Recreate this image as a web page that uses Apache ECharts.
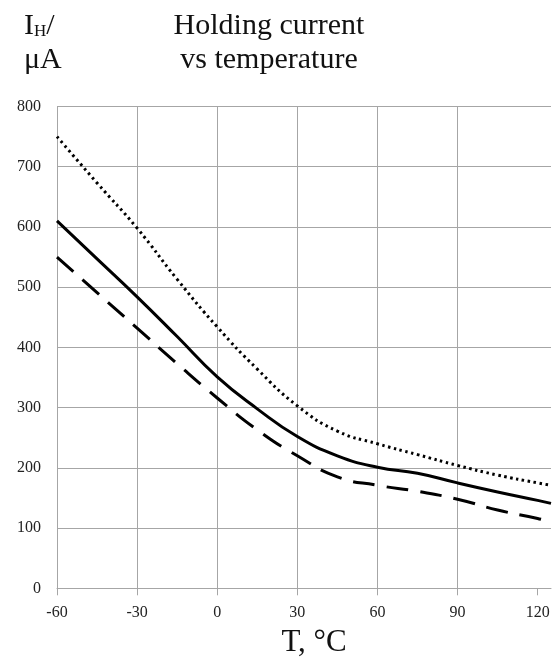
<!DOCTYPE html>
<html>
<head>
<meta charset="utf-8">
<script src="https://cdn.jsdelivr.net/npm/echarts@6/dist/echarts.min.js"></script>
<style>html,body{margin:0;padding:0;background:#fff;}#c{width:559px;height:672px;}</style>
</head>
<body>
<div id="c"></div>
<script>
var temps = [-60, -45, -30, -15, 0, 15, 30, 45, 60, 75, 90, 105, 120, 125];
var typical = [610, 547, 484, 418, 351, 298, 252, 220, 201, 191, 175, 160, 146, 141];
var maxCurve = [750, 673, 598, 513, 434, 364, 303, 261, 240, 222, 204, 188, 175, 171];
var minCurve = [550, 491, 432, 373, 316, 263, 220, 185, 171, 161, 148, 130, 116, 110];
var xTicks = [-60, -30, 0, 30, 60, 90, 120];
var titleLines = ['Holding current', 'vs temperature'];
var xName = 'T, \u00B0C';

function pairs(v) { return temps.map(function (t, i) { return [t, v[i]]; }); }

var font = '"Liberation Serif", "Times New Roman", serif';
var grey = '#a6a6a6';
var chart = echarts.init(document.getElementById('c'), null, { renderer: 'canvas' });
chart.setOption({
  animation: false,
  backgroundColor: '#ffffff',
  grid: { left: 57, right: 8, top: 106.5, bottom: 83.7, containLabel: false },
  xAxis: {
    type: 'value', min: -60, max: 125, interval: 30,
    axisLine: { show: true, lineStyle: { color: grey, width: 1 } },
    axisTick: { show: true, length: 7, inside: false, customValues: xTicks, lineStyle: { color: grey } },
    axisLabel: { customValues: xTicks, margin: 16, color: '#222', fontFamily: font, fontSize: 16 },
    splitLine: { show: true, showMaxLine: false, lineStyle: { color: grey, width: 1 } }
  },
  yAxis: {
    type: 'value', min: 0, max: 800, interval: 100,
    axisLine: { show: true, lineStyle: { color: grey, width: 1 } },
    axisTick: { show: true, length: 7, inside: false, lineStyle: { color: grey } },
    axisLabel: { margin: 16, color: '#222', fontFamily: font, fontSize: 16 },
    splitLine: { show: true, lineStyle: { color: grey, width: 1 } }
  },
  series: [
    { type: 'line', data: pairs(maxCurve), smooth: 0.5, showSymbol: false, lineStyle: { color: '#000', width: 3, type: [2.5, 3.5] } },
    { type: 'line', data: pairs(typical), smooth: 0.5, showSymbol: false, lineStyle: { color: '#000', width: 3, type: 'solid' } },
    { type: 'line', data: pairs(minCurve), smooth: 0.5, showSymbol: false, lineStyle: { color: '#000', width: 3, type: [22, 12] } }
  ],
  graphic: [
    { type: 'text', x: 269, y: 9, style: { text: titleLines.join('\n'), fontFamily: font, fontSize: 30, lineHeight: 34, fill: '#111', align: 'center', verticalAlign: 'top' } },
    { type: 'text', x: 24, y: 9, style: { text: '{a|I}{s|H}{a|/}\n{a|\u03BCA}', fontFamily: font, fill: '#111', verticalAlign: 'top',
        rich: { a: { fontFamily: font, fontSize: 30, lineHeight: 34, fill: '#111' }, s: { fontFamily: font, fontSize: 17, lineHeight: 34, fill: '#111', padding: [12, 0, 0, 0] } } } },
    { type: 'text', x: 314, y: 627, style: { text: xName, fontFamily: font, fontSize: 31, fill: '#111', align: 'center', verticalAlign: 'top' } }
  ]
});
</script>
</body>
</html>
